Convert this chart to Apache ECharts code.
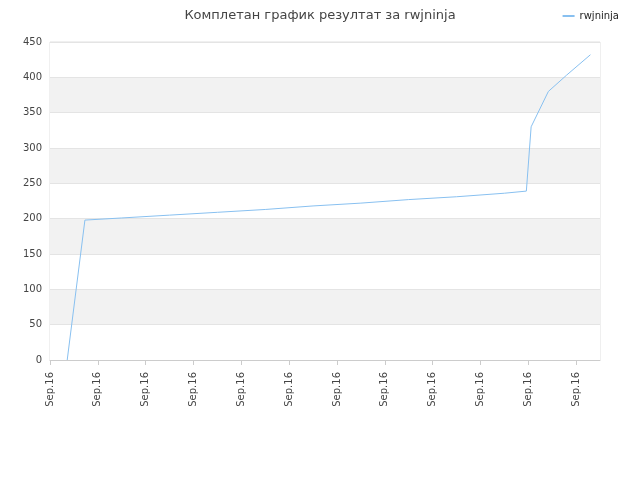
<!DOCTYPE html>
<html><head><meta charset="utf-8">
<script src="https://cdn.jsdelivr.net/npm/echarts@6/dist/echarts.min.js"></script>
<style>body{margin:0}#c{width:640px;height:480px}</style></head>
<body><div id="c"></div>
<script>
const title = 'Комплетан график резултат за rwjninja';
const seriesName = 'rwjninja';
const tickLabel = 'Sep.16';
const xs = [0.36, 0.73, 1.5, 2.5, 3.5, 4.5, 5.5, 6.5, 7.5, 8.5, 9.5, 9.96, 10.06, 10.42, 10.8, 11.3];
const ys = [0, 198, 201, 205, 209, 213, 218, 222, 227, 231, 236, 239, 330, 380, 403, 432];
const chart = echarts.init(document.getElementById('c'));
chart.setOption({
  animation:false,
  title:{text:title,left:'center',top:4,textStyle:{fontSize:13,fontWeight:'normal',color:'#444',fontFamily:'DejaVu Sans'}},
  legend:{right:16,top:6,itemWidth:12,itemHeight:2,icon:'rect',textStyle:{fontSize:10,color:'#222',fontFamily:'DejaVu Sans'},data:[seriesName]},
  grid:{left:50,right:40,top:42,bottom:120,show:true,borderColor:'#e0e0e0',borderWidth:1},
  xAxis:{type:'value',min:0,max:11.5,interval:1,
    axisLine:{lineStyle:{color:'#ccc'}},axisTick:{show:true,lineStyle:{color:'#ccc'}},splitLine:{show:false},
    axisLabel:{rotate:90,margin:12,fontSize:10,color:'#444',fontFamily:'DejaVu Sans',showMaxLabel:false,formatter:()=>tickLabel}},
  yAxis:{type:'value',min:0,max:450,interval:50,
    axisLine:{show:false},axisTick:{show:false},
    axisLabel:{fontSize:10,color:'#444',fontFamily:'DejaVu Sans'},
    splitLine:{lineStyle:{color:'#e4e4e4'}},
    splitArea:{show:true,areaStyle:{color:['#ffffff','#f2f2f2']}}},
  series:[{name:seriesName,type:'line',showSymbol:false,
    lineStyle:{color:'#88c0f0',width:1},itemStyle:{color:'#88c0f0'},
    data:xs.map((x,i)=>[x,ys[i]])}]
});
</script></body></html>
